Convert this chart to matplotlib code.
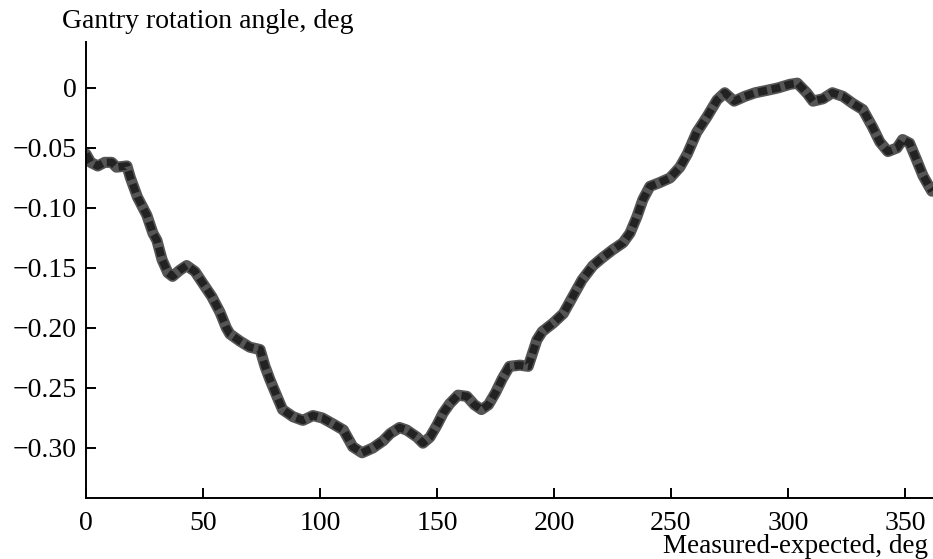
import numpy as np
import matplotlib
matplotlib.use("Agg")
from matplotlib import pyplot as plt

# values
angle = [0, 2, 5, 8, 11, 13, 17.5, 19, 22, 24.4, 26, 28.6, 30.3, 32.5, 35, 37, 40, 43, 46.6, 50,
         53.8, 57.3, 60, 61.5, 65.8, 70, 74.4, 76.5, 78.6, 81.6, 84, 88.5, 92.7, 97, 101, 105.6,
         110, 114, 118, 122.6, 127, 130, 134, 137, 141.5, 144, 147, 150, 152.6, 155.5, 159,
         162.8, 166, 169, 172, 175, 178, 181, 185.5, 189, 192.7, 195, 199.6, 204, 208, 212,
         216.7, 221, 225, 229.5, 232.5, 235.5, 238, 241, 245, 249.6, 253.8, 257, 261, 265.4,
         269.7, 273, 277, 281.6, 286, 291, 295.7, 300.8, 304, 308, 310.7, 315, 319, 323.5,
         327.8, 332, 336, 339.3, 342.7, 346.6, 349, 352, 355, 357.7, 360, 361.5]
error = [-0.055, -0.062, -0.065, -0.062, -0.062, -0.066, -0.065, -0.075, -0.091, -0.100, -0.106,
         -0.121, -0.127, -0.143, -0.154, -0.157, -0.152, -0.148, -0.153, -0.163, -0.174, -0.187,
         -0.200, -0.205, -0.211, -0.216, -0.218, -0.232, -0.243, -0.257, -0.268, -0.274, -0.277,
         -0.273, -0.275, -0.280, -0.285, -0.299, -0.304, -0.300, -0.294, -0.288, -0.283, -0.285,
         -0.291, -0.296, -0.291, -0.281, -0.271, -0.263, -0.256, -0.257, -0.264, -0.268, -0.264,
         -0.254, -0.242, -0.232, -0.231, -0.232, -0.210, -0.203, -0.196, -0.188, -0.174, -0.160,
         -0.148, -0.141, -0.135, -0.129, -0.121, -0.107, -0.093, -0.082, -0.079, -0.075, -0.066,
         -0.055, -0.037, -0.024, -0.010, -0.004, -0.011, -0.007, -0.004, -0.002, 0.000, 0.003,
         0.004, -0.004, -0.011, -0.009, -0.004, -0.007, -0.013, -0.018, -0.032, -0.045, -0.053,
         -0.050, -0.043, -0.046, -0.060, -0.073, -0.081, -0.086]
xticks = [0, 50, 100, 150, 200, 250, 300, 350]
yticks = [0, -0.05, -0.10, -0.15, -0.20, -0.25, -0.30]
ytick_labels = ["0", "\u22120.05", "\u22120.10", "\u22120.15", "\u22120.20", "\u22120.25", "\u22120.30"]

plt.rcParams['font.family'] = ['Liberation Serif', 'DejaVu Serif']

fig = plt.figure(figsize=(9.33, 5.59), dpi=100)
ax = fig.add_axes([86/933, 1 - 498/559, 1 - 86/933, (498 - 42)/559])

ax.plot(angle, error, color="#555555", linewidth=8, solid_joinstyle="round", solid_capstyle="round")
ax.plot(angle, error, color="#222222", linewidth=5.5, linestyle=(0, (1.2, 0.6)))

ax.set_xlim(0, 362)
ax.set_ylim(-0.3417, 0.0383)
ax.set_xticks(xticks)
ax.set_yticks(yticks)
ax.set_yticklabels(ytick_labels)

for s in ["top", "right"]:
    ax.spines[s].set_visible(False)
for s in ["left", "bottom"]:
    ax.spines[s].set_linewidth(1.4)
ax.tick_params(direction="in", length=7, width=1.4, labelsize=20, pad=7)
ax.tick_params(axis="x", pad=9)

fig.text(62/933, 1 - 28/559, "Gantry rotation angle, deg", fontsize=20, ha="left", va="baseline")
fig.text(928/933, 1 - 553/559, "Measured-expected, deg", fontsize=19.5, ha="right", va="baseline")

fig.savefig("out.png", dpi=100)
